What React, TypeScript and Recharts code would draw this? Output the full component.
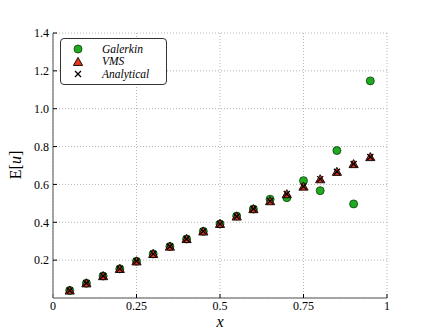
import {
  ScatterChart,
  Scatter,
  XAxis,
  YAxis,
  CartesianGrid,
} from "recharts";

// sample positions along x
const xs = [0.05, 0.1, 0.15, 0.2, 0.25, 0.3, 0.35, 0.4, 0.45, 0.5, 0.55, 0.6, 0.65, 0.7, 0.75, 0.8, 0.85, 0.9, 0.95];

// E[u] values
const galerkin = [0.04, 0.078, 0.116, 0.154, 0.194, 0.233, 0.272, 0.312, 0.352, 0.391, 0.433, 0.47, 0.522, 0.53, 0.62, 0.567, 0.779, 0.497, 1.147];
const vms = [0.039, 0.077, 0.115, 0.153, 0.193, 0.232, 0.271, 0.311, 0.351, 0.391, 0.43, 0.469, 0.511, 0.548, 0.588, 0.627, 0.666, 0.707, 0.744];
const analytical = [0.04, 0.078, 0.116, 0.154, 0.194, 0.233, 0.272, 0.312, 0.352, 0.391, 0.431, 0.47, 0.512, 0.549, 0.589, 0.628, 0.667, 0.708, 0.745];

const xTicks = [0, 0.25, 0.5, 0.75, 1];
const yTicks = [0.2, 0.4, 0.6, 0.8, 1.0, 1.2, 1.4];

const toPoints = (ys: number[]) => xs.map((x, i) => ({ x, y: ys[i] }));

const SERIF = "'Liberation Serif', 'DejaVu Serif', serif";
const FRAME = "#8a8a8a";

const Circle = (props: any) => (
  <circle cx={props.cx} cy={props.cy} r={4} fill="#1faa1f" stroke="#0b3d0b" strokeWidth={0.8} />
);

const Triangle = (props: any) => {
  const { cx, cy } = props;
  const s = 4.6;
  return (
    <polygon
      points={`${cx},${cy - s} ${cx - s},${cy + s * 0.75} ${cx + s},${cy + s * 0.75}`}
      fill="#e8341a"
      stroke="#000"
      strokeWidth={0.9}
    />
  );
};

const Cross = (props: any) => {
  const { cx, cy } = props;
  const s = 3;
  return (
    <g stroke="#000" strokeWidth={1.3}>
      <line x1={cx - s} y1={cy - s} x2={cx + s} y2={cy + s} />
      <line x1={cx - s} y1={cy + s} x2={cx + s} y2={cy - s} />
    </g>
  );
};

const Nothing = () => <g />;

const legendItems = [
  { label: "Galerkin", Icon: Circle },
  { label: "VMS", Icon: Triangle },
  { label: "Analytical", Icon: Cross },
];

const LegendBox = () => (
  <div
    style={{
      position: "absolute",
      left: 60,
      top: 38,
      width: 107,
      height: 47,
      border: "1px solid #333",
      borderRadius: 4,
      background: "#fff",
      boxSizing: "border-box",
      paddingTop: 4,
    }}
  >
    {legendItems.map(({ label, Icon }) => (
      <div key={label} style={{ display: "flex", alignItems: "center", height: 12.5 }}>
        <svg width={30} height={12} style={{ flex: "none" }}>
          <Icon cx={17} cy={6} />
        </svg>
        <span
          style={{
            fontFamily: SERIF,
            fontStyle: "italic",
            fontSize: 11.5,
            marginLeft: 11,
            lineHeight: "11px",
          }}
        >
          {label}
        </span>
      </div>
    ))}
  </div>
);

const YLabel = () => (
  <text
    x={0}
    y={0}
    transform="translate(21,165) rotate(-90)"
    textAnchor="middle"
    fontFamily={SERIF}
    fontSize={16}
    fill="#000"
  >
    E[<tspan fontStyle="italic">u</tspan>]
  </text>
);

export default function App() {
  return (
    <div style={{ position: "absolute", left: 0, top: 0, width: 430, height: 332, background: "#fff" }}>
      <ScatterChart width={430} height={332} margin={{ top: 33, right: 43, bottom: 2, left: 13 }}>
        <CartesianGrid xAxisId="b" yAxisId="l" stroke="#b5b5b5" strokeDasharray="1 2" />
        <XAxis
          xAxisId="b"
          dataKey="x"
          type="number"
          domain={[0, 1]}
          ticks={xTicks}
          tickFormatter={(v: number) => String(v)}
          height={32}
          tickSize={-4}
          tickMargin={7}
          axisLine={{ stroke: FRAME, strokeWidth: 1.5 }}
          tickLine={{ stroke: "#000" }}
          tick={{ fill: "#000", fontFamily: SERIF, fontSize: 12 }}
          label={{ value: "x", position: "insideBottom", offset: 3, style: { fontFamily: SERIF, fontStyle: "italic", fontSize: 16, fill: "#000" } }}
        />
        <XAxis
          xAxisId="t"
          orientation="top"
          dataKey="x"
          type="number"
          domain={[0, 1]}
          ticks={xTicks}
          height={0}
          tickSize={-4}
          tick={false}
          axisLine={{ stroke: FRAME, strokeWidth: 1.5 }}
          tickLine={{ stroke: "#000" }}
        />
        <YAxis
          yAxisId="l"
          dataKey="y"
          type="number"
          domain={[0, 1.4]}
          ticks={yTicks}
          tickFormatter={(v: number) => v.toFixed(1)}
          width={40}
          tickSize={-4}
          tickMargin={8}
          axisLine={{ stroke: FRAME, strokeWidth: 1.5 }}
          tickLine={{ stroke: "#000" }}
          tick={{ fill: "#000", fontFamily: SERIF, fontSize: 12 }}
          label={<YLabel />}
        />
        <YAxis
          yAxisId="r"
          orientation="right"
          dataKey="y"
          type="number"
          domain={[0, 1.4]}
          ticks={yTicks}
          width={0}
          tickSize={-4}
          tick={false}
          axisLine={{ stroke: FRAME, strokeWidth: 1.5 }}
          tickLine={{ stroke: "#000" }}
        />
        {/* invisible series so the top and right frame axes get drawn */}
        <Scatter data={toPoints(analytical)} xAxisId="t" yAxisId="r" shape={<Nothing />} isAnimationActive={false} />
        <Scatter name="Galerkin" data={toPoints(galerkin)} xAxisId="b" yAxisId="l" shape={<Circle />} isAnimationActive={false} />
        <Scatter name="VMS" data={toPoints(vms)} xAxisId="b" yAxisId="l" shape={<Triangle />} isAnimationActive={false} />
        <Scatter name="Analytical" data={toPoints(analytical)} xAxisId="b" yAxisId="l" shape={<Cross />} isAnimationActive={false} />
      </ScatterChart>
      <LegendBox />
    </div>
  );
}
